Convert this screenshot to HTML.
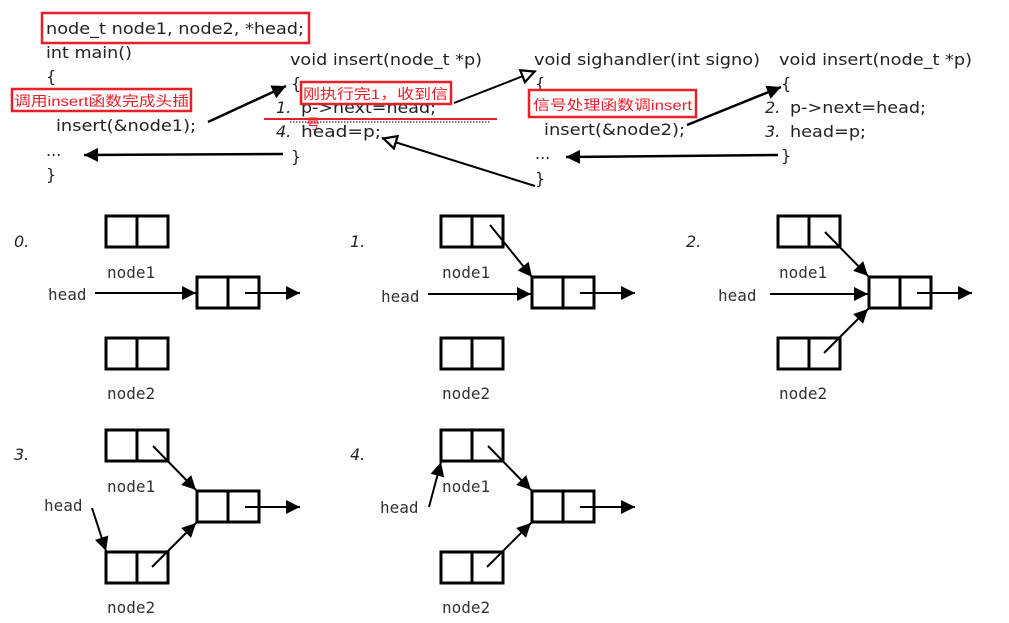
<!DOCTYPE html>
<html><head><meta charset="utf-8"><style>
html,body{margin:0;padding:0;background:#fff;width:1009px;height:623px;overflow:hidden}
svg{display:block}
.c{font-family:"DejaVu Sans","Liberation Sans",sans-serif;font-size:16px;fill:#222}
.i{font-style:italic}
.r{font-family:"Liberation Sans","Noto Sans CJK SC",sans-serif;font-size:14px;fill:#e8202a}
.m{font-family:"DejaVu Sans Mono","Liberation Mono",monospace;font-size:16px;fill:#333}
</style></head><body>
<svg width="1009" height="623" viewBox="0 0 1009 623" xmlns="http://www.w3.org/2000/svg">
<defs>
<marker id="f" viewBox="0 0 10 10" refX="9" refY="5" markerWidth="6" markerHeight="6" orient="auto" markerUnits="userSpaceOnUse" style="overflow:visible">
<path d="M0,0 L10,5 L0,10 z" fill="#000" transform="scale(1.6) translate(-4,-2)"/></marker>
<marker id="o" viewBox="0 0 10 10" refX="10" refY="5" markerWidth="18" markerHeight="16" orient="auto" markerUnits="userSpaceOnUse">
<path d="M1,1 L9,5 L1,9 z" fill="#fff" stroke="#000" stroke-width="1.4"/></marker>
<marker id="a" viewBox="0 0 10 10" refX="10" refY="5" markerWidth="16" markerHeight="14" orient="auto" markerUnits="userSpaceOnUse">
<path d="M0,0 L10,5 L0,10 z" fill="#000"/></marker>
<g id="box"><rect x="0" y="0" width="62" height="31" fill="none" stroke="#000" stroke-width="3"/><line x1="31" y1="0" x2="31" y2="31" stroke="#000" stroke-width="3"/></g>
<g id="base">
<use href="#box" x="106" y="216"/>
<use href="#box" x="106" y="338"/>
<use href="#box" x="197" y="277"/>
<line x1="245" y1="293" x2="300" y2="293" stroke="#000" stroke-width="2" marker-end="url(#a)"/>
<text class="m" x="107" y="278">node1</text>
<text class="m" x="107" y="399">node2</text>
</g>
</defs>

<!-- code -->
<rect x="42" y="13" width="267" height="30" fill="none" stroke="#e8202a" stroke-width="2.5"/>
<text class="c" x="46" y="34" textLength="258" lengthAdjust="spacingAndGlyphs">node_t node1, node2, *head;</text>
<text class="c" x="46" y="58" textLength="86" lengthAdjust="spacingAndGlyphs">int main()</text>
<text class="c" x="46" y="82">{</text>
<text class="c" x="46" y="106">...</text>
<rect x="12" y="89" width="179" height="22" fill="#fff" stroke="#e8202a" stroke-width="2.5"/>
<text class="r" x="14" y="106" textLength="175" lengthAdjust="spacingAndGlyphs">调用insert函数完成头插</text>
<text class="c" x="56" y="131" textLength="140" lengthAdjust="spacingAndGlyphs">insert(&amp;node1);</text>
<text class="c" x="46" y="156">...</text>
<text class="c" x="46" y="180">}</text>

<text class="c" x="290" y="65" textLength="192" lengthAdjust="spacingAndGlyphs">void insert(node_t *p)</text>
<text class="c" x="291" y="89">{</text>
<text class="c i" x="276" y="113">1.</text>
<text class="c" x="301" y="113" textLength="135" lengthAdjust="spacingAndGlyphs">p-&gt;next=head;</text>
<line x1="290" y1="122" x2="490" y2="122" stroke="#555" stroke-width="1.5" stroke-dasharray="1.5,1.5"/>
<line x1="264" y1="119" x2="497" y2="119" stroke="#e8202a" stroke-width="2"/>
<rect x="301" y="82" width="150" height="22" fill="#fff" stroke="#e8202a" stroke-width="2.5"/>
<text class="r" x="303" y="99" textLength="145" lengthAdjust="spacingAndGlyphs">刚执行完1，收到信</text>
<text class="r" x="306" y="129" font-size="12">号</text>
<text class="c i" x="276" y="137">4.</text>
<text class="c" x="301" y="137" textLength="80" lengthAdjust="spacingAndGlyphs">head=p;</text>
<text class="c" x="291" y="162">}</text>

<text class="c" x="534" y="65" textLength="226" lengthAdjust="spacingAndGlyphs">void sighandler(int signo)</text>
<text class="c" x="535" y="89">{</text>
<text class="c" x="535" y="112">...</text>
<rect x="529" y="90" width="167" height="27" fill="#fff" stroke="#e8202a" stroke-width="2.5"/>
<text class="r" x="533" y="110" textLength="159" lengthAdjust="spacingAndGlyphs">信号处理函数调insert</text>
<text class="c" x="544" y="135" textLength="141" lengthAdjust="spacingAndGlyphs">insert(&amp;node2);</text>
<text class="c" x="535" y="159">...</text>
<text class="c" x="535" y="184">}</text>

<text class="c" x="779" y="65" textLength="193" lengthAdjust="spacingAndGlyphs">void insert(node_t *p)</text>
<text class="c" x="781" y="89">{</text>
<text class="c i" x="765" y="113">2.</text>
<text class="c" x="790" y="113" textLength="136" lengthAdjust="spacingAndGlyphs">p-&gt;next=head;</text>
<text class="c i" x="765" y="137">3.</text>
<text class="c" x="790" y="137" textLength="76" lengthAdjust="spacingAndGlyphs">head=p;</text>
<text class="c" x="781" y="161">}</text>

<!-- code arrows -->
<line x1="208" y1="122" x2="286" y2="86" stroke="#000" stroke-width="2.5" marker-end="url(#a)"/>
<line x1="283" y1="154" x2="84" y2="155" stroke="#000" stroke-width="2.5" marker-end="url(#a)"/>
<line x1="454" y1="103" x2="536" y2="71" stroke="#000" stroke-width="2" marker-end="url(#o)"/>
<line x1="535" y1="186" x2="382" y2="138" stroke="#000" stroke-width="2" marker-end="url(#o)"/>
<line x1="687" y1="125" x2="781" y2="87" stroke="#000" stroke-width="2.5" marker-end="url(#a)"/>
<line x1="778" y1="155" x2="566" y2="157" stroke="#000" stroke-width="2.5" marker-end="url(#a)"/>

<!-- panels -->
<text class="c i" x="14" y="247">0.</text>
<text class="c i" x="350" y="247">1.</text>
<text class="c i" x="686" y="247">2.</text>
<text class="c i" x="14" y="460">3.</text>
<text class="c i" x="350" y="460">4.</text>

<g><use href="#base"/>
<text class="m" x="48" y="300">head</text>
<line x1="95" y1="293" x2="196" y2="293" stroke="#000" stroke-width="2" marker-end="url(#a)"/></g>

<g transform="translate(335,0)"><use href="#base"/>
<text class="m" x="46" y="302">head</text>
<line x1="93" y1="294" x2="196" y2="294" stroke="#000" stroke-width="2" marker-end="url(#a)"/>
<line x1="155" y1="225" x2="197" y2="277" stroke="#000" stroke-width="2" marker-end="url(#a)"/></g>

<g transform="translate(672,0)"><use href="#base"/>
<text class="m" x="46" y="301">head</text>
<line x1="98" y1="294" x2="196" y2="294" stroke="#000" stroke-width="2" marker-end="url(#a)"/>
<line x1="153" y1="232" x2="196" y2="276" stroke="#000" stroke-width="2" marker-end="url(#a)"/>
<line x1="152" y1="353" x2="196" y2="309" stroke="#000" stroke-width="2" marker-end="url(#a)"/></g>

<g transform="translate(0,214)"><use href="#base"/>
<text class="m" x="44" y="297">head</text>
<line x1="92" y1="294" x2="106" y2="337" stroke="#000" stroke-width="2" marker-end="url(#a)"/>
<line x1="153" y1="232" x2="196" y2="276" stroke="#000" stroke-width="2" marker-end="url(#a)"/>
<line x1="152" y1="353" x2="196" y2="309" stroke="#000" stroke-width="2" marker-end="url(#a)"/></g>

<g transform="translate(335,214)"><use href="#base"/>
<text class="m" x="45" y="299">head</text>
<line x1="94" y1="293" x2="106" y2="248" stroke="#000" stroke-width="2" marker-end="url(#a)"/>
<line x1="153" y1="232" x2="196" y2="276" stroke="#000" stroke-width="2" marker-end="url(#a)"/>
<line x1="152" y1="353" x2="196" y2="309" stroke="#000" stroke-width="2" marker-end="url(#a)"/></g>
</svg>
</body></html>
